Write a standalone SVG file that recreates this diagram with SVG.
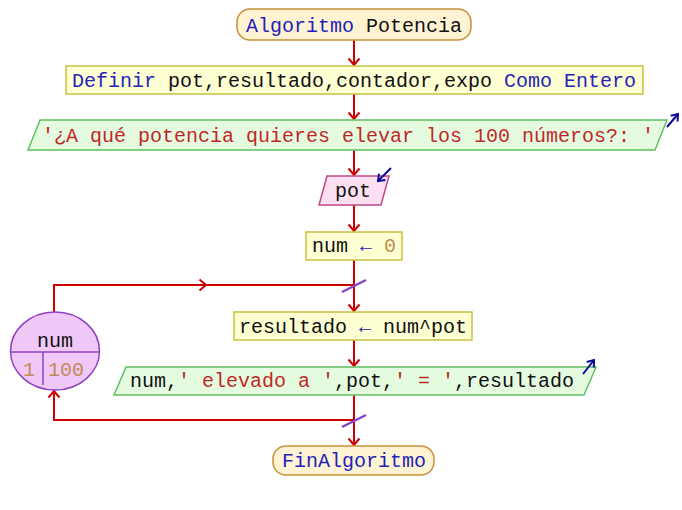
<svg xmlns="http://www.w3.org/2000/svg" width="682" height="510" viewBox="0 0 682 510">
<style>
text{font-family:"Liberation Mono","Courier New",monospace;font-size:20px;fill:#111;}
.c{text-anchor:middle;}
.kw{fill:#2323b8;}
.str{fill:#c02828;}
.num{fill:#c08a50;}
.op{fill:#2323b8;}
.term{fill:#fff3d4;stroke:#c8903c;stroke-width:1.5;}
.proc{fill:#ffffd4;stroke:#c8c040;stroke-width:1.5;}
.out{fill:#e4fbe0;stroke:#60c060;stroke-width:1.5;}
.inp{fill:#fde0f0;stroke:#c04888;stroke-width:1.5;}
.loop{fill:#f0c8f8;stroke:#9040c0;stroke-width:1.5;}
.flow{fill:none;stroke:#cc0000;stroke-width:2;}
.slash{stroke:#8844cc;stroke-width:2.5;}
.io{stroke:#0a0a9a;stroke-width:2;fill:none;}
</style>
<defs>
<marker id="ah" viewBox="-8 -7 10 14" markerWidth="10" markerHeight="14" refX="0" refY="0" orient="auto" markerUnits="userSpaceOnUse">
<path d="M-6.5,-5.5 L0,0 L-6.5,5.5" fill="none" stroke="#cc0000" stroke-width="2"/>
</marker>
<marker id="bh" viewBox="-8 -6 10 12" markerWidth="10" markerHeight="12" refX="0" refY="0" orient="auto" markerUnits="userSpaceOnUse">
<path d="M-6,-4.5 L0,0 L-6,4.5" fill="none" stroke="#0a0a9a" stroke-width="2"/>
</marker>
</defs>
<g id="connectors">
<path class="flow" d="M354,40 L354,65" marker-end="url(#ah)"/>
<path class="flow" d="M354,94 L354,119" marker-end="url(#ah)"/>
<path class="flow" d="M354,150 L354,175" marker-end="url(#ah)"/>
<path class="flow" d="M354,205 L354,231" marker-end="url(#ah)"/>
<path class="flow" d="M354,260 L354,311" marker-end="url(#ah)"/>
<path class="flow" d="M354,340 L354,366" marker-end="url(#ah)"/>
<path class="flow" d="M354,395 L354,445" marker-end="url(#ah)"/>
<path class="flow" d="M54,312 L54,285 L206,285" marker-end="url(#ah)"/>
<path class="flow" d="M206,285 L354,285"/>
<path class="flow" d="M354,420 L54,420 L54,391" marker-end="url(#ah)"/>
<line class="slash" x1="342" y1="292" x2="366" y2="280"/>
<line class="slash" x1="342" y1="427" x2="366" y2="415"/>
</g>
<g id="start">
<rect class="term" x="237" y="9" width="234" height="31" rx="13"/>
<text class="c" x="354" y="32"><tspan class="kw">Algoritmo</tspan> Potencia</text>
</g>
<g id="define">
<rect class="proc" x="66" y="66" width="577" height="28"/>
<text class="c" x="354" y="87"><tspan class="kw">Definir</tspan> pot,resultado,contador,expo <tspan class="kw">Como</tspan> <tspan class="kw">Entero</tspan></text>
</g>
<g id="output1">
<polygon class="out" points="40,120 667,120 655,150 28,150"/>
<text class="c" x="348" y="142"><tspan class="str">'¿A qué potencia quieres elevar los 100 números?: '</tspan></text>
<path class="io" d="M667,127 L678,114" marker-end="url(#bh)"/>
</g>
<g id="input">
<polygon class="inp" points="327,176 389,176 381,205 319,205"/>
<text class="c" x="353" y="197">pot</text>
<path class="io" d="M391,168 L378,181" marker-end="url(#bh)"/>
</g>
<g id="assign1">
<rect class="proc" x="306" y="232" width="96" height="28"/>
<text class="c" x="354" y="252">num <tspan class="op">←</tspan> <tspan class="num">0</tspan></text>
</g>
<g id="loop">
<ellipse class="loop" cx="55" cy="351" rx="44.5" ry="39"/>
<line x1="11" y1="352" x2="99.5" y2="352" stroke="#9040c0" stroke-width="1.5"/>
<line x1="43" y1="352" x2="43" y2="385" stroke="#9040c0" stroke-width="1.5"/>
<text class="c" x="55" y="347">num</text>
<text class="num" x="23" y="376">1</text>
<text class="num" x="48" y="376">100</text>
</g>
<g id="assign2">
<rect class="proc" x="234" y="312" width="238" height="28"/>
<text class="c" x="353" y="333">resultado <tspan class="op">←</tspan> num^pot</text>
</g>
<g id="output2">
<polygon class="out" points="126,367 596,367 584,395 114,395"/>
<text x="130" y="387">num,<tspan class="str">' elevado a '</tspan>,pot,<tspan class="str">' = '</tspan>,resultado</text>
<path class="io" d="M583,374 L594,360" marker-end="url(#bh)"/>
</g>
<g id="end">
<rect class="term" x="273" y="446" width="161" height="29" rx="13"/>
<text class="c kw" x="354" y="467">FinAlgoritmo</text>
</g>
</svg>
